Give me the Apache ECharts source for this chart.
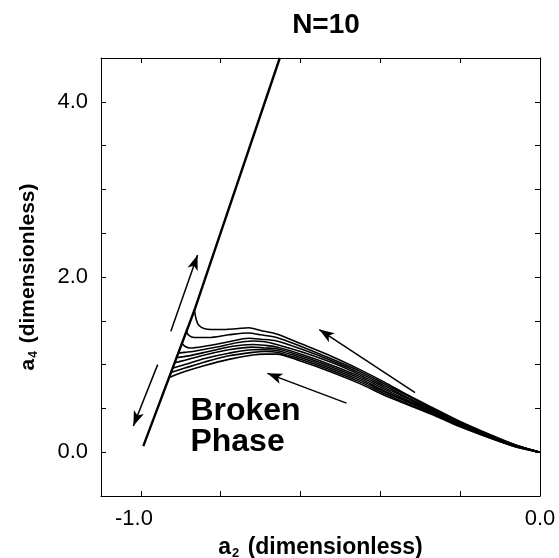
<!DOCTYPE html>
<html>
<head>
<meta charset="utf-8">
<script src="https://cdn.jsdelivr.net/npm/echarts@6/dist/echarts.min.js"></script>
<style>html,body{margin:0;padding:0;background:#fff}#c{width:559px;height:558px}</style>
</head>
<body>
<div id="c"></div>
<script>
// ---- data ----
const xTicks = [-1.0, -0.8, -0.6, -0.4, -0.2, 0.0];
const xLabels = [-1.0, 0.0];
const yTicks = [-0.5, 0.0, 0.5, 1.0, 1.5, 2.0, 2.5, 3.0, 3.5, 4.0, 4.5];
const yLabels = [0.0, 2.0, 4.0];

// steep boundary line
const boundary = [[-0.994, 0.07], [-0.866, 1.62], [-0.652, 4.5]];

// family of curves: left (branch) parts
const c1Left = [[-0.866,1.62],[-0.861,1.51],[-0.855,1.45],[-0.84,1.41],[-0.80,1.40],[-0.76,1.41],[-0.73,1.42],[-0.70,1.39]];
const c2Left = [[-0.886,1.38],[-0.879,1.33],[-0.866,1.31],[-0.83,1.31],[-0.78,1.34],[-0.73,1.36],[-0.70,1.34]];
const c3Left = [[-0.897,1.24],[-0.890,1.21],[-0.877,1.19],[-0.84,1.21],[-0.78,1.26],[-0.73,1.30],[-0.70,1.29]];
const c4Left = [[-0.906,1.13],[-0.89,1.14],[-0.87,1.15],[-0.81,1.20],[-0.76,1.25],[-0.72,1.27],[-0.69,1.26]];
const c5Left = [[-0.911,1.08],[-0.88,1.10],[-0.83,1.15],[-0.77,1.21],[-0.72,1.23],[-0.69,1.22]];
const c6Left = [[-0.916,1.02],[-0.89,1.05],[-0.84,1.11],[-0.78,1.17],[-0.72,1.20],[-0.69,1.19]];
const c7Left = [[-0.921,0.96],[-0.89,1.00],[-0.84,1.07],[-0.78,1.13],[-0.72,1.17],[-0.69,1.17]];
const c8Left = [[-0.925,0.91],[-0.89,0.96],[-0.84,1.03],[-0.78,1.10],[-0.72,1.14],[-0.69,1.15]];
const c9Left = [[-0.930,0.85],[-0.89,0.92],[-0.84,0.99],[-0.78,1.06],[-0.72,1.11],[-0.69,1.12]];

// descending parts (shared x)
const descX = [-0.66,-0.60,-0.52,-0.45,-0.39,-0.33,-0.27,-0.20,-0.13,-0.06,0.0];
const c1Desc = [1.35,1.24,1.09,0.94,0.80,0.65,0.51,0.35,0.21,0.08,0.0];
const c2Desc = [1.31,1.21,1.06,0.92,0.78,0.64,0.50,0.34,0.20,0.08,0.0];
const c3Desc = [1.27,1.18,1.04,0.90,0.76,0.62,0.49,0.34,0.20,0.08,0.0];
const c4Desc = [1.23,1.15,1.02,0.88,0.74,0.61,0.48,0.33,0.19,0.07,0.0];
const c5Desc = [1.20,1.12,0.99,0.86,0.72,0.59,0.47,0.32,0.19,0.07,0.0];
const c6Desc = [1.18,1.10,0.97,0.84,0.70,0.58,0.46,0.32,0.18,0.07,0.0];
const c7Desc = [1.16,1.08,0.95,0.82,0.69,0.57,0.45,0.31,0.18,0.07,0.0];
const c8Desc = [1.14,1.06,0.93,0.80,0.67,0.55,0.44,0.30,0.17,0.06,0.0];
const c9Desc = [1.12,1.04,0.91,0.78,0.65,0.54,0.43,0.29,0.17,0.06,0.0];

// arrows [from, to]
const arrow1 = [[-0.925,1.38],[-0.858,2.25]];
const arrow2 = [[-0.958,1.00],[-1.019,0.30]];
const arrow3 = [[-0.313,0.68],[-0.553,1.40]];
const arrow4 = [[-0.485,0.56],[-0.683,0.90]];

const textPos = [-0.876, 0.29];

// ---- build ----
const lefts = [c1Left,c2Left,c3Left,c4Left,c5Left,c6Left,c7Left,c8Left,c9Left];
const descs = [c1Desc,c2Desc,c3Desc,c4Desc,c5Desc,c6Desc,c7Desc,c8Desc,c9Desc];
const FONT = '"Liberation Sans", Arial, Helvetica, sans-serif';

const series = [];
series.push({
  type: 'line', data: boundary, symbol: 'none', clip: true,
  lineStyle: { color: '#000', width: 2.4 }, silent: true
});
lefts.forEach((l, i) => {
  const d = l.concat(descX.map((x, j) => [x, descs[i][j]]));
  series.push({
    type: 'line', data: d, symbol: 'none', smooth: 0.3,
    lineStyle: { color: '#000', width: 1.6 }, silent: true
  });
});
const arrows = [arrow1, arrow2, arrow3, arrow4];
series.push({
  type: 'line', data: [], symbol: 'none',
  markLine: {
    silent: true, animation: false,
    symbol: ['none', 'arrow'], symbolSize: [8, 15],
    label: { show: false },
    lineStyle: { color: '#000', width: 1.5, type: 'solid' },
    data: arrows.map(a => [{ coord: a[0] }, { coord: a[1] }])
  }
});

const axisCommon = {
  axisLine: { show: true, onZero: false, lineStyle: { color: '#000', width: 1 } },
  splitLine: { show: false }
};
const yNameRich = {
  a: { fontFamily: FONT, fontWeight: 'bold', fontSize: 21, color: '#000', lineHeight: 26 },
  s: { fontFamily: FONT, fontWeight: 'bold', fontSize: 12, color: '#000', lineHeight: 26, padding: [12, 2, 0, 1] }
};
const xNameRich = {
  a: { fontFamily: FONT, fontWeight: 'bold', fontSize: 23, color: '#000', lineHeight: 26 },
  s: { fontFamily: FONT, fontWeight: 'bold', fontSize: 13, color: '#000', lineHeight: 26, padding: [12, 2, 0, 1] }
};

const option = {
  animation: false,
  backgroundColor: '#fff',
  title: {
    text: 'N=10', left: 321, top: 6, textAlign: 'center',
    textStyle: { fontFamily: FONT, fontWeight: 'bold', fontSize: 28, color: '#000' }
  },
  grid: { left: 101, top: 58, width: 439, height: 438, outerBoundsMode: 'none', containLabel: false },
  xAxis: [
    Object.assign({}, axisCommon, {
      type: 'value', position: 'bottom', min: -1.1, max: 0.0,
      axisTick: { show: true, inside: true, length: 5, customValues: xTicks, lineStyle: { color: '#000' } },
      axisLabel: {
        customValues: xLabels,
        formatter: v => v < 0 ? '{n|' + v.toFixed(1) + '}' : '{p|' + v.toFixed(1) + '}',
        margin: 12,
        rich: {
          n: { fontFamily: FONT, fontSize: 22, color: '#000', padding: [0, 14, 0, 0] },
          p: { fontFamily: FONT, fontSize: 22, color: '#000' }
        }
      },
      name: '{a|a}{s|2}{a| (dimensionless)}', nameLocation: 'middle', nameGap: 38,
      nameTextStyle: { rich: xNameRich }
    }),
    Object.assign({}, axisCommon, {
      type: 'value', position: 'top', min: -1.1, max: 0.0,
      axisTick: { show: true, inside: true, length: 5, customValues: xTicks, lineStyle: { color: '#000' } },
      axisLabel: { show: false }
    })
  ],
  yAxis: [
    Object.assign({}, axisCommon, {
      type: 'value', position: 'left', min: -0.5, max: 4.5,
      axisTick: { show: true, inside: true, length: 5, customValues: yTicks, lineStyle: { color: '#000' } },
      axisLabel: {
        customValues: yLabels, formatter: v => v.toFixed(1), fontFamily: FONT,
        fontSize: 22, color: '#000', margin: 13
      },
      name: '{a|a}{s|4}{a| (dimensionless)}', nameLocation: 'middle', nameGap: 60, nameRotate: 90,
      nameTextStyle: { rich: yNameRich }
    }),
    Object.assign({}, axisCommon, {
      type: 'value', position: 'right', min: -0.5, max: 4.5,
      axisTick: { show: true, inside: true, length: 5, customValues: yTicks, lineStyle: { color: '#000' } },
      axisLabel: { show: false }
    })
  ],
  series: series
};

const chart = echarts.init(document.getElementById('c'), null, { renderer: 'canvas' });
chart.setOption(option);
const tp = chart.convertToPixel({ xAxisIndex: 0, yAxisIndex: 0 }, textPos);
chart.setOption({
  graphic: [{
    type: 'text', x: tp[0], y: tp[1], silent: true,
    style: {
      text: 'Broken\nPhase', fill: '#000', font: 'bold 32px ' + FONT,
      lineHeight: 31, textAlign: 'left', textVerticalAlign: 'middle'
    }
  }]
});
</script>
</body>
</html>
